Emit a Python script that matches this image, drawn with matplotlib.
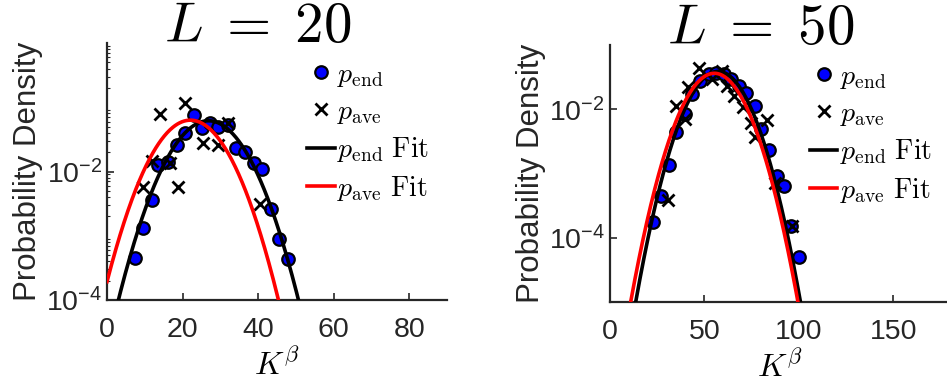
import numpy as np
import matplotlib.pyplot as plt
from matplotlib.lines import Line2D

plt.rcParams['font.family'] = ['Liberation Sans', 'DejaVu Sans']
plt.rcParams['mathtext.fontset'] = 'cm'

# L = 20: binned densities
k20_end = [7.4, 9.6, 11.8, 13.6, 16.2, 18.5, 20.7, 23.1, 25.1, 27.3,
           29.5, 32.1, 34.2, 36.6, 38.9, 41.1, 43.4, 45.6, 47.8]
p20_end = [4.5e-4, 1.32e-3, 3.55e-3, 1.26e-2, 1.41e-2, 2.57e-2, 3.98e-2, 7.5e-2, 4.8e-2, 5.75e-2,
           4.9e-2, 5.25e-2, 2.34e-2, 2.0e-2, 1.38e-2, 1.1e-2, 2.63e-3, 8.9e-4, 4.4e-4]
k20_ave = [9.6, 11.8, 14.0, 16.7, 18.7, 20.7, 25.5, 29.5, 32.1, 40.5]
p20_ave = [5.75e-3, 1.45e-2, 7.8e-2, 1.38e-2, 5.75e-3, 0.115, 2.75e-2, 2.63e-2, 5.75e-2, 3.16e-3]

# L = 50: binned densities
k50_end = [23.0, 27.0, 31.4, 34.9, 39.9, 43.4, 47.9, 52.3, 56.4, 60.3,
           64.2, 68.3, 72.3, 76.6, 79.8, 84.2, 88.3, 92.2, 96.1, 100.2]
p50_end = [1.74e-4, 4.4e-4, 1.35e-3, 4.4e-3, 8.3e-3, 1.7e-2, 2.75e-2, 3.55e-2, 3.63e-2, 3.55e-2,
           2.95e-2, 2.34e-2, 1.82e-2, 1.12e-2, 4.9e-3, 2.34e-3, 9.1e-4, 6.5e-4, 1.55e-4, 5.1e-5]
k50_ave = [30.6, 35.0, 39.9, 41.6, 47.0, 54.1, 59.4, 62.0, 65.6, 70.5, 74.5, 77.1, 83.3, 87.2, 96.6]
p50_ave = [3.9e-4, 1.12e-2, 7.1e-3, 2.19e-2, 4.4e-2, 2.95e-2, 3.98e-2, 2.29e-2, 1.62e-2, 1.1e-2,
           6.2e-3, 3.7e-3, 6.9e-3, 7.2e-4, 1.5e-4]

# gaussian fit parameters (amplitude, mean, sigma)
fit20_end = (0.0617, 26.85, 6.65)
fit20_ave = (0.063, 22.08, 6.49)
fit50_end = (0.0389, 57.3, 10.73)
fit50_ave = (0.0363, 55.3, 10.94)


def gauss(x, a, mu, s):
    return a * np.exp(-(x - mu) ** 2 / (2 * s ** 2))


def panel(ax, L, ke, pe, ka, pa, fe, fa, xmax, ylim, xticks):
    ax.plot(ke, pe, 'o', ms=9, mfc='#0000ff', mec='k', mew=1.6, zorder=2)
    ax.plot(ka, pa, 'x', ms=9, color='k', mew=2.0, zorder=3)
    x = np.linspace(0, xmax, 600)
    ax.plot(x, gauss(x, *fe), color='k', lw=2.6, zorder=4)
    ax.plot(x, gauss(x, *fa), color='r', lw=2.6, zorder=5)
    ax.set_yscale('log')
    ax.set_xlim(0, xmax)
    ax.set_ylim(*ylim)
    ax.set_xticks(xticks)
    ax.set_yticks([1e-4, 1e-2])
    for sp in ['top', 'right']:
        ax.spines[sp].set_visible(False)
    for sp in ['left', 'bottom']:
        ax.spines[sp].set_linewidth(1.6)
        ax.spines[sp].set_color('#262626')
    ax.tick_params(which='both', direction='in', colors='#262626', labelsize=20.5)
    ax.tick_params(which='major', length=5, width=1.2)
    ax.tick_params(which='minor', length=2.5, width=0.8)
    ax.tick_params(axis='x', pad=12)
    ax.set_xlabel(r'$K^{\beta}$', fontsize=23, labelpad=5)
    ax.set_ylabel('Probability Density', fontsize=22.5, color='#262626', labelpad=2)
    # title sits partly over the top of the axes
    ax.text(0.444, 1.0 + (43 - 27) / 257, r'$L\;=\;%d$' % L, transform=ax.transAxes,
            ha='center', va='center', fontsize=41)
    handles = [
        Line2D([], [], ls='none', marker='o', ms=9, mfc='#0000ff', mec='k', mew=1.6),
        Line2D([], [], ls='none', marker='x', ms=9, color='k', mew=2.0),
        Line2D([], [], color='k', lw=2.6),
        Line2D([], [], color='r', lw=2.6),
    ]
    labels = [r'$p_{\rm end}$', r'$p_{\rm ave}$',
              r'$p_{\rm end}\ \mathrm{Fit}$', r'$p_{\rm ave}\ \mathrm{Fit}$']
    ax.legend(handles, labels, loc='upper left', bbox_to_anchor=(0.555, 0.97),
              frameon=False, fontsize=20, handlelength=1.0, handletextpad=0.1,
              labelspacing=0.35, borderaxespad=0)


fig = plt.figure(figsize=(9.47, 3.83), dpi=100)
ax1 = fig.add_axes([0.113, 0.2167, 0.359, 0.671])
ax2 = fig.add_axes([0.644, 0.2115, 0.359, 0.671])

panel(ax1, 20, k20_end, p20_end, k20_ave, p20_ave, fit20_end, fit20_ave,
      90, (1e-4, 1.0), [0, 20, 40, 60, 80])
panel(ax2, 50, k50_end, p50_end, k50_ave, p50_ave, fit50_end, fit50_ave,
      180, (1e-5, 1e-1), [0, 50, 100, 150])

fig.savefig('out.png', dpi=100)
